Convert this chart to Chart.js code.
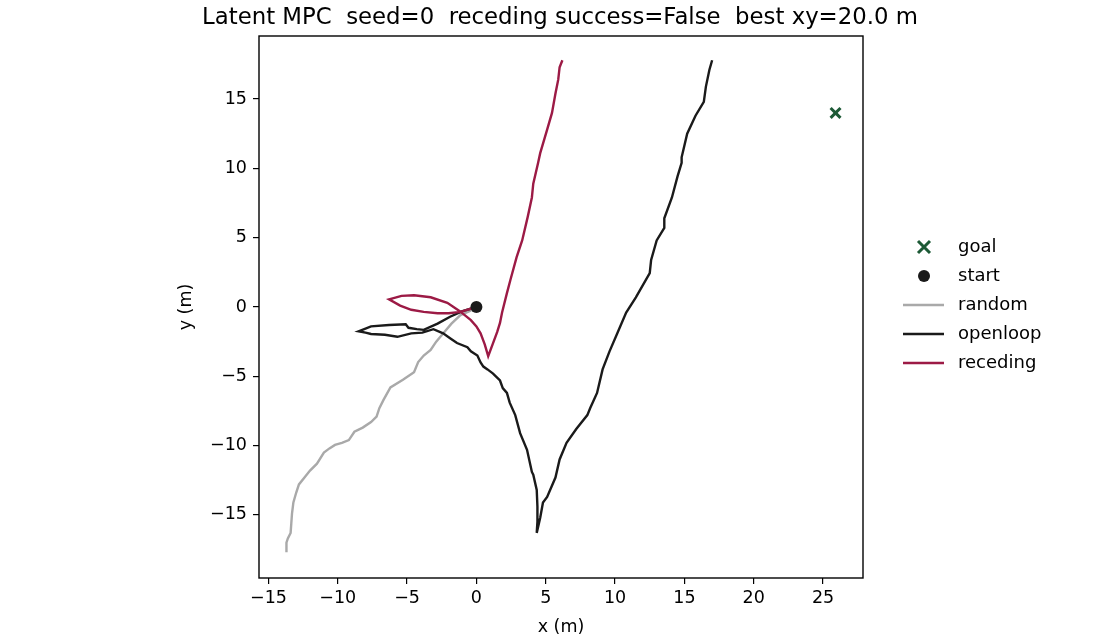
<!DOCTYPE html>
<html>
<head>
<meta charset="utf-8">
<script src="https://cdn.jsdelivr.net/npm/chart.js@4"></script>
<style>
  body { margin: 0; background: #fff; }
  canvas { display: block; }
</style>
</head>
<body>
<canvas id="chart" width="1120" height="644"></canvas>
<script>
const titleText = 'Latent MPC  seed=0  receding success=False  best xy=20.0 m'
const xTicks = [-15, -10, -5, 0, 5, 10, 15, 20, 25]
const yTicks = [-15, -10, -5, 0, 5, 10, 15]

const goal = [25.9, 14.0]
const start = [0, 0]

const randomX = [0, -0.5, -1.15, -1.8, -2.37, -2.9, -3.3, -3.8, -4.2, -4.5, -5.3, -6.2, -6.7, -7.0, -7.2, -7.6, -8.2, -8.8, -9.2, -9.7, -10.2, -10.6, -11.0, -11.5, -12.0, -12.4, -12.8, -13.0, -13.2, -13.3, -13.35, -13.4, -13.6, -13.7, -13.7]
const randomY = [0, -0.3, -0.58, -1.2, -1.87, -2.5, -3.1, -3.5, -3.97, -4.7, -5.25, -5.8, -6.7, -7.3, -7.9, -8.3, -8.7, -9.0, -9.6, -9.8, -9.95, -10.2, -10.5, -11.3, -11.8, -12.3, -12.8, -13.4, -14.1, -14.9, -15.6, -16.3, -16.7, -17.0, -17.7]

const openloopX = [0, -1.0, -1.9, -2.8, -3.8, -4.3, -4.9, -5.1, -6.3, -7.6, -8.5, -8.0, -7.6, -6.6, -5.7, -4.7, -3.9, -3.1, -2.4, -1.9, -1.4, -0.65, -0.4, 0.07, 0.3, 0.5, 0.8, 1.2, 1.7, 1.9, 2.2, 2.4, 2.8, 3.15, 3.65, 4.0, 4.1, 4.35, 4.4, 4.4, 4.35, 4.6, 4.8, 5.1, 5.7, 6.0, 6.5, 7.2, 8.0, 8.2, 8.7, 9.1, 9.6, 10.2, 10.8, 11.5, 12.5, 12.6, 13.0, 13.55, 13.55, 14.1, 14.5, 14.8, 14.8, 15.2, 15.8, 16.4, 16.55, 16.8, 17.0]
const openloopY = [0, -0.3, -0.7, -1.2, -1.65, -1.6, -1.5, -1.25, -1.3, -1.4, -1.75, -1.85, -1.95, -2.0, -2.15, -1.9, -1.85, -1.6, -1.9, -2.25, -2.6, -2.9, -3.2, -3.5, -4.0, -4.3, -4.5, -4.8, -5.3, -5.85, -6.2, -6.9, -7.8, -9.1, -10.3, -11.9, -12.1, -13.2, -14.4, -15.5, -16.3, -15.2, -14.1, -13.7, -12.3, -11.0, -9.8, -8.8, -7.8, -7.3, -6.2, -4.5, -3.2, -1.8, -0.4, 0.7, 2.45, 3.4, 4.8, 5.7, 6.4, 7.9, 9.4, 10.4, 10.8, 12.5, 13.8, 14.8, 15.9, 17.1, 17.8]

const recedingX = [0, -1.15, -2.0, -2.8, -3.8, -4.7, -5.5, -6.3, -5.4, -4.5, -3.3, -2.1, -1.2, -0.4, 0.0, 0.3, 0.6, 0.85, 1.2, 1.5, 1.7, 1.85, 2.2, 2.45, 2.9, 3.3, 3.7, 4.0, 4.1, 4.45, 4.6, 5.1, 5.45, 5.7, 5.9, 6.0, 6.2]
const recedingY = [0, -0.35, -0.45, -0.45, -0.35, -0.2, 0.1, 0.55, 0.8, 0.85, 0.7, 0.3, -0.3, -0.95, -1.4, -1.9, -2.7, -3.55, -2.6, -1.8, -1.15, -0.4, 1.0, 1.95, 3.6, 4.8, 6.5, 7.9, 8.9, 10.4, 11.1, 12.8, 14.0, 15.4, 16.4, 17.3, 17.8]

const colors = {
  goal: '#1d5a36',
  start: '#1a1a1a',
  random: '#a9a9a9',
  openloop: '#1a1a1a',
  receding: '#9c1a45'
}

const FONT = 'DejaVu Sans'
const toPts = (xs, ys) => xs.map((x, i) => ({ x: x, y: ys[i] }))
const fmt = v => String(v).replace('-', '\u2212')

const lineSet = (label, xs, ys) => ({
  label: label,
  data: toPts(xs, ys),
  showLine: true,
  borderColor: colors[label],
  backgroundColor: colors[label],
  borderWidth: 2.4,
  pointRadius: 0,
  tension: 0
})

// title, frame round the plot and a matplotlib-like legend on the right
const framePlugin = {
  id: 'frame',
  afterDraw(chart) {
    const { ctx, chartArea: a } = chart
    ctx.save()
    ctx.fillStyle = '#000'
    ctx.font = '22.8px "' + FONT + '"'
    ctx.textAlign = 'center'
    ctx.textBaseline = 'alphabetic'
    ctx.fillText(titleText, 560, 24)

    ctx.strokeStyle = '#000'
    ctx.lineWidth = 1.4
    ctx.strokeRect(a.left, a.top, a.right - a.left, a.bottom - a.top)

    const items = ['goal', 'start', 'random', 'openloop', 'receding']
    const sx = 924, tx = 958, y0 = 247, dy = 29
    ctx.font = '18px "' + FONT + '"'
    ctx.textBaseline = 'middle'
    ctx.textAlign = 'left'
    items.forEach((name, i) => {
      const y = y0 + i * dy
      ctx.strokeStyle = colors[name]
      ctx.fillStyle = colors[name]
      if (name === 'goal') {
        ctx.lineWidth = 3
        ctx.beginPath()
        ctx.moveTo(sx - 6, y - 6); ctx.lineTo(sx + 6, y + 6)
        ctx.moveTo(sx - 6, y + 6); ctx.lineTo(sx + 6, y - 6)
        ctx.stroke()
      } else if (name === 'start') {
        ctx.beginPath()
        ctx.arc(sx, y, 6, 0, Math.PI * 2)
        ctx.fill()
      } else {
        ctx.lineWidth = 2.4
        ctx.beginPath()
        ctx.moveTo(sx - 21, y); ctx.lineTo(sx + 20, y)
        ctx.stroke()
      }
      ctx.fillStyle = '#000'
      ctx.fillText(name, tx, y)
    })
    ctx.restore()
  }
}

new Chart(document.getElementById('chart'), {
  type: 'scatter',
  data: {
    datasets: [
      {
        label: 'goal',
        data: [{ x: goal[0], y: goal[1] }],
        pointStyle: 'crossRot',
        pointRadius: 7,
        borderWidth: 3,
        borderColor: colors.goal,
        backgroundColor: colors.goal
      },
      {
        label: 'start',
        data: [{ x: start[0], y: start[1] }],
        pointStyle: 'circle',
        pointRadius: 6,
        borderWidth: 0,
        backgroundColor: colors.start
      },
      lineSet('receding', recedingX, recedingY),
      lineSet('openloop', openloopX, openloopY),
      lineSet('random', randomX, randomY)
    ]
  },
  options: {
    responsive: false,
    animation: false,
    devicePixelRatio: 1,
    layout: { padding: { left: 170, right: 257, top: 36, bottom: 0 } },
    plugins: {
      legend: { display: false },
      tooltip: { enabled: false },
      title: { display: false }
    },
    scales: {
      x: {
        type: 'linear',
        min: -15.68,
        max: 27.88,
        afterFit: s => { s.height = 66 },
        afterBuildTicks: s => { s.ticks = xTicks.map(v => ({ value: v })) },
        border: { display: false },
        grid: { display: true, drawOnChartArea: false, drawTicks: true, tickLength: 6, color: '#000', lineWidth: 1.2 },
        ticks: {
          autoSkip: false,
          maxRotation: 0,
          padding: 4,
          color: '#000',
          font: { family: FONT, size: 17.5 },
          callback: v => fmt(v)
        },
        title: {
          display: true,
          text: 'x (m)',
          color: '#000',
          font: { family: FONT, size: 17.5 },
          padding: { top: 6, bottom: 6 }
        }
      },
      y: {
        type: 'linear',
        min: -19.55,
        max: 19.55,
        afterFit: s => { s.width = 89 },
        afterBuildTicks: s => { s.ticks = yTicks.map(v => ({ value: v })) },
        border: { display: false },
        grid: { display: true, drawOnChartArea: false, drawTicks: true, tickLength: 6, color: '#000', lineWidth: 1.2 },
        ticks: {
          autoSkip: false,
          padding: 6,
          color: '#000',
          font: { family: FONT, size: 17.5 },
          callback: v => fmt(v)
        },
        title: {
          display: true,
          text: 'y (m)',
          color: '#000',
          font: { family: FONT, size: 17.5 },
          padding: { top: 6, bottom: 6 }
        }
      }
    }
  },
  plugins: [framePlugin]
})
</script>
</body>
</html>
